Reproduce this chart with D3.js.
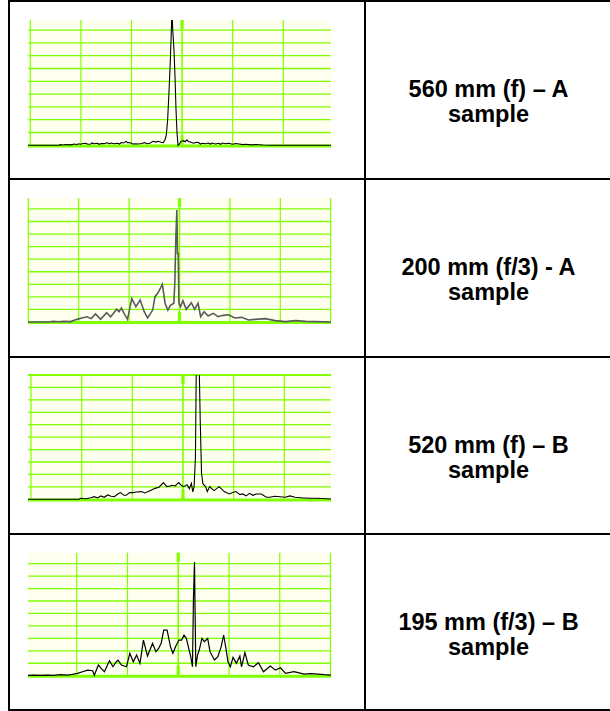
<!DOCTYPE html>
<html><head><meta charset="utf-8">
<script src="https://cdn.jsdelivr.net/npm/d3@7"></script>
<style>body{margin:0;background:#fff}</style>
</head><body><svg id="c" width="610" height="711"></svg>
<script>
// Row labels
const labels = [
  ["560 mm (f) – A", "sample"],
  ["200 mm (f/3) - A", "sample"],
  ["520 mm (f) – B", "sample"],
  ["195 mm (f/3) – B", "sample"]
];
// Spectrum traces: [channel, level in grid divisions]
const trace1 = [[-3,0],[28,0],[29.7,0.05],[32,0.02],[35,0.06],[38,0.03],[41.4,0.05],[43,0.1],[46,0.06],[48,0.12],[49.7,0.08],[52,0.14],[54.7,0.16],[57,0.08],[59.7,0.1],[61,0.18],[63,0.12],[66.4,0.16],[68,0.08],[70,0.14],[73,0.13],[76,0.2],[78,0.12],[79.7,0.18],[83,0.12],[86.4,0.16],[88,0.1],[90,0.22],[92,0.18],[94.7,0.31],[96,0.2],[98,0.21],[101.4,0.1],[104,0.12],[106.4,0.1],[110,0.14],[113,0.21],[115,0.12],[118,0.16],[121.4,0.31],[124,0.25],[126.4,0.31],[129,0.24],[131.4,0.21],[133,0.42],[134.4,0.81],[135.7,1.98],[137,4.06],[138.4,6.67],[139.4,9.06],[140,10.6],[140.7,9.06],[142,7.45],[143,5.36],[144,2.76],[145,0.94],[146,0],[147.4,0.1],[148.7,0.29],[151.4,0.36],[153,0.28],[154.7,0.42],[156,0.3],[158,0.26],[161.4,0.16],[164,0.24],[166.4,0.21],[168,0.1],[170,0.16],[173,0.12],[176,0.18],[178,0.1],[179.7,0.18],[183,0.1],[186.4,0.16],[188,0.08],[190,0.18],[193,0.12],[196,0.16],[199.7,0.08],[203,0.14],[206.4,0.1],[210,0.05],[213,0.08],[218,0.03],[223,0.06],[230,0.02],[236.4,0],[302,0]];
const trace2 = [[-1,0],[20,0],[25,0.05],[30,0.02],[35,0.05],[42,0.03],[48.4,0.21],[53.4,0.32],[58.4,0.42],[62.4,0.27],[66.7,0.64],[71.7,0.21],[77.7,0.74],[81.7,0.42],[87.7,1.01],[90,0.82],[92.4,1.11],[95,0.69],[98.4,0.21],[102.7,1.86],[106.7,1.22],[111,1.75],[115,0.82],[118.4,0.32],[123.4,0.95],[125.7,2.02],[128.4,2.28],[133,3.0],[135.7,1.49],[138.4,0.95],[141,1.33],[144.4,1.49],[145.4,3.21],[146.4,6.79],[147.4,8.91],[148,5.46],[148.7,5.46],[149.4,1.49],[151,1.22],[153.4,1.7],[156.7,1.01],[161.7,1.54],[165,1.01],[168.4,1.49],[171,0.42],[174.4,0.82],[178.4,0.48],[183.4,0.69],[188.4,0.42],[193.4,0.53],[198.4,0.58],[205,0.32],[211.7,0.37],[218.4,0.16],[225,0.21],[235,0.27],[245,0.11],[255,0.03],[265,0.11],[275,0.05],[285,0.03],[303,0]];
const trace3 = [[-3,0],[47.3,0],[49,0.08],[54,0.05],[59,0.13],[62.3,0.21],[65.7,0.11],[69,0.27],[72.3,0.16],[75.7,0.35],[79,0.24],[82.3,0.21],[85.7,0.43],[88.3,0.54],[91.7,0.32],[94,0.32],[97.3,0.54],[100.7,0.54],[104,0.59],[109,0.62],[112.3,0.51],[115.7,0.62],[119,0.75],[122.3,0.88],[126.3,0.97],[130.7,1.34],[134,1.02],[137.3,1.07],[139,1.13],[142.3,1.07],[145.7,1.34],[148.3,1.13],[150.7,1.02],[154,1.18],[156.3,0.86],[158.3,1.29],[159.7,0.59],[161,1.02],[162.3,3.43],[163.3,12],[165.7,12],[167,6.43],[168.3,2.09],[169.7,1.23],[172.3,1.02],[174,0.62],[176.3,1.02],[180.7,0.7],[185.7,1.02],[190.7,0.62],[195.7,0.43],[199,0.54],[202.3,0.62],[206.3,0.38],[209,0.43],[212.3,0.27],[215.7,0.48],[219,0.32],[222.3,0.43],[227.3,0.43],[232.3,0.16],[235.7,0.16],[240.7,0.24],[245.7,0.21],[250.7,0.16],[255.7,0.27],[260.7,0.16],[269,0.11],[275.7,0.08],[282.3,0.08],[301,0]];
const trace4 = [[2,0.03],[7.3,0.05],[14,0.03],[20.7,0.05],[27.3,0.03],[34,0.08],[40.7,0.05],[45.7,0.11],[50.7,0.19],[55.7,0.32],[60.7,0.45],[65.7,0.4],[67.3,0.03],[71.3,0.86],[74,0.59],[77.3,0.32],[80.7,0.94],[82.3,1.2],[85.7,0.72],[89,1.12],[90.7,1.25],[94,0.86],[99,0.72],[102.3,1.79],[105.7,1.12],[109,1.66],[112.3,0.99],[115.7,2.86],[119.7,1.58],[124.7,2.59],[128,1.93],[130.7,2.19],[133.3,2.65],[135.7,3.66],[139,3.66],[142.3,2.33],[144.7,1.8],[147.3,2.33],[150.7,2.86],[153.3,2.86],[155.7,3.26],[158,3.0],[160.7,2.06],[162.3,1.53],[164,0.72],[165,6.28],[166,9.14],[166.7,4.49],[167.3,0.72],[169,1.66],[170.7,2.06],[173.3,2.99],[175.7,2.73],[179,2.99],[181.3,1.93],[185.7,1.26],[189,1.53],[192.3,2.33],[194.7,3.26],[196.7,2.33],[199,1.12],[201.3,0.72],[204,1.47],[207.3,0.99],[210.7,1.58],[212.3,0.72],[215.7,1.85],[219,0.86],[224,0.72],[229,1.04],[234,0.32],[240.7,0.78],[245.7,0.45],[250.7,0.64],[255.7,0.19],[264,0.32],[274,0.13],[280.7,0.16],[287.3,0.13],[294,0.08],[305.7,0.03]];
const traces = [trace1, trace2, trace3, trace4];
const channelTicks = [0, 50, 100, 150, 200, 250, 300];
const levelTicks = [1, 2, 3, 4, 5, 6, 7, 8, 9, 10];

const svg = d3.select("#c");
const GREEN = "#80ff00", BG = "#fffff0";
const rowTops = [1, 179, 357, 534, 710];
const plots = [
  {top: 20,    base: 145.3, g0: 30.3, sp: 50.6,  ys: 12.8,  color: "#000", w: 1.1},
  {top: 198,   base: 322,   g0: 28.3, sp: 50.4,  ys: 12.56, color: "#5a5a5a", w: 1.6},
  {top: 375,   base: 499.3, g0: 31,   sp: 50.66, ys: 12.43, color: "#000", w: 1.1},
  {top: 552.7, base: 675.7, g0: 26,   sp: 50.75, ys: 12.45, color: "#000", w: 1.2}
];
const L = 28, R = 331;

plots.forEach((p, i) => {
  const x = d3.scaleLinear().domain([0, 300]).range([p.g0, p.g0 + 6 * p.sp]);
  const y = d3.scaleLinear().domain([0, 10]).range([p.base, p.base - 10 * p.ys]);
  const g = svg.append("g");
  const cid = "clip" + i;
  g.append("clipPath").attr("id", cid).append("rect")
    .attr("x", L).attr("y", p.top).attr("width", R - L).attr("height", p.base - p.top + 3);
  g.append("rect").attr("x", L).attr("y", p.top).attr("width", R - L).attr("height", p.base - p.top).attr("fill", BG);
  g.selectAll(".h").data(levelTicks.filter(v => y(v) >= p.top - 0.6)).enter().append("line")
    .attr("x1", L).attr("x2", R).attr("y1", d => y(d)).attr("y2", d => y(d))
    .attr("stroke", GREEN).attr("stroke-width", d => (y(d) - p.top < 1 ? 2 : 1.3));
  g.selectAll(".v").data(channelTicks.filter(c => x(c) >= L - 0.5 && x(c) <= R + 0.5)).enter().append("line")
    .attr("x1", d => x(d)).attr("x2", d => x(d)).attr("y1", p.top).attr("y2", p.base)
    .attr("stroke", GREEN).attr("stroke-width", d => d === 150 ? 1.6 : 1.2);
  g.append("rect").attr("x", x(150) - 1.6).attr("y", p.top).attr("width", 3.2).attr("height", 9).attr("fill", GREEN);
  g.append("rect").attr("x", x(150) - 1.6).attr("y", p.base - 10).attr("width", 3.2).attr("height", 10).attr("fill", GREEN);
  g.append("line").attr("x1", L).attr("x2", R).attr("y1", p.base + 0.6).attr("y2", p.base + 0.6)
    .attr("stroke", GREEN).attr("stroke-width", 3);
  g.append("path").datum(traces[i])
    .attr("clip-path", `url(#${cid})`)
    .attr("fill", "none").attr("stroke", p.color).attr("stroke-width", p.w).attr("stroke-linejoin", "miter")
    .attr("d", d3.line().x(d => x(d[0])).y(d => y(d[1])));
});

const T = svg.append("g").attr("stroke", "#000").attr("stroke-width", 2);
rowTops.forEach(t => T.append("line").attr("x1", 8).attr("x2", 612).attr("y1", t).attr("y2", t));
T.append("line").attr("x1", 9).attr("x2", 9).attr("y1", 0).attr("y2", 711);
T.append("line").attr("x1", 365).attr("x2", 365).attr("y1", 0).attr("y2", 711);
T.append("line").attr("x1", 611).attr("x2", 611).attr("y1", 0).attr("y2", 711);

labels.forEach((lab, i) => {
  const t = svg.append("text").attr("text-anchor", "middle")
    .attr("font-family", "Arial, 'Liberation Sans', sans-serif").attr("font-weight", "bold")
    .attr("font-size", 23.5).attr("fill", "#000");
  lab.forEach((s, j) => t.append("tspan").attr("x", 488.5).attr("y", rowTops[i] + 96 + j * 25).text(s));
});
</script></body></html>
